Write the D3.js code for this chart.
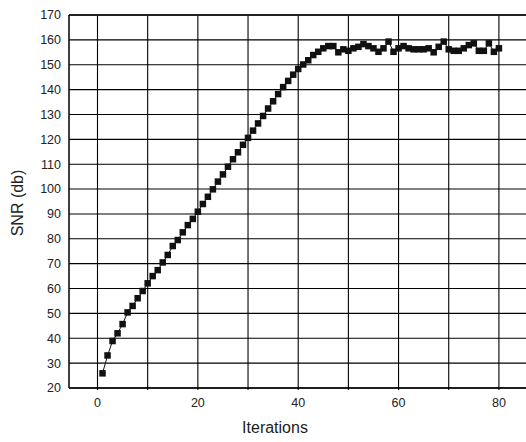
<!DOCTYPE html>
<html>
<head>
<meta charset="utf-8">
<script src="https://cdn.jsdelivr.net/npm/d3@7"></script>
<style>
  body { margin: 0; background: #fff; }
  text { font-family: "Liberation Sans", Arial, sans-serif; fill: #222; }
</style>
</head>
<body>
<div id="chart"></div>
<script>
const svgWidth = 526;
const svgHeight = 442;

// iteration numbers and SNR readings
const iterations = d3.range(1, 81);
const snr = [
  25.9, 33.1, 38.9, 42.0, 45.7, 50.4, 53.0, 56.1, 59.0, 62.1,
  65.0, 67.4, 70.5, 73.5, 77.1, 79.5, 82.6, 85.5, 88.0, 90.9,
  94.0, 96.9, 99.9, 103.0, 105.9, 109.0, 112.0, 114.8, 117.8, 120.6,
  123.5, 126.4, 129.4, 132.4, 135.3, 138.2, 141.0, 143.5, 146.0, 148.3,
  150.1, 151.8, 153.9, 155.2, 156.6, 157.5, 157.5, 155.0, 156.2, 155.6,
  156.6, 157.2, 158.3, 157.5, 156.6, 155.2, 156.6, 159.3, 155.2, 156.6,
  157.5, 156.6, 156.2, 156.2, 156.2, 156.6, 155.0, 157.2, 159.3, 156.2,
  155.6, 155.6, 156.6, 157.9, 158.6, 155.6, 155.6, 158.6, 155.2, 156.6
];
const xTicks = [0, 20, 40, 60, 80];
const xGrid = d3.range(0, 81, 10);
const yTicks = d3.range(20, 171, 10);

const margin = { top: 15, right: 0, bottom: 54, left: 69 };
const width = svgWidth - margin.left - margin.right;
const height = svgHeight - margin.top - margin.bottom;

const svg = d3.select("#chart")
  .append("svg")
  .attr("width", svgWidth)
  .attr("height", svgHeight);

const chartGroup = svg.append("g")
  .attr("transform", `translate(${margin.left}, ${margin.top})`);

const x = d3.scaleLinear().domain([-5.68, 85.4]).range([0, width]);
const y = d3.scaleLinear().domain([20, 170]).range([height, 0]);

// grid
chartGroup.append("g")
  .selectAll("line")
  .data(yTicks)
  .enter()
  .append("line")
  .attr("x1", 0)
  .attr("x2", width)
  .attr("y1", d => y(d))
  .attr("y2", d => y(d))
  .attr("stroke", "#000")
  .attr("stroke-width", 1.1);

chartGroup.append("g")
  .selectAll("line")
  .data(xGrid)
  .enter()
  .append("line")
  .attr("x1", d => x(d))
  .attr("x2", d => x(d))
  .attr("y1", 0)
  .attr("y2", height + 2)
  .attr("stroke", "#000")
  .attr("stroke-width", 1.1);

// frame
chartGroup.append("line")
  .attr("x1", 0).attr("x2", width).attr("y1", 0).attr("y2", 0)
  .attr("stroke", "#222").attr("stroke-width", 2);
chartGroup.append("line")
  .attr("x1", 0).attr("x2", width).attr("y1", height).attr("y2", height)
  .attr("stroke", "#000").attr("stroke-width", 1.5);
chartGroup.append("line")
  .attr("x1", 0).attr("x2", 0).attr("y1", 0).attr("y2", height)
  .attr("stroke", "#000").attr("stroke-width", 1.5);

// tick labels
chartGroup.append("g")
  .selectAll("text")
  .data(yTicks)
  .enter()
  .append("text")
  .attr("x", -8)
  .attr("y", d => y(d))
  .attr("dy", "0.35em")
  .attr("text-anchor", "end")
  .style("font-size", "12.5px")
  .text(d => d);

chartGroup.append("g")
  .selectAll("text")
  .data(xTicks)
  .enter()
  .append("text")
  .attr("x", d => x(d))
  .attr("y", height + 19)
  .attr("text-anchor", "middle")
  .style("font-size", "12.5px")
  .text(d => d);

// axis titles
svg.append("text")
  .attr("x", 275)
  .attr("y", 433)
  .attr("text-anchor", "middle")
  .style("font-size", "16px")
  .text("Iterations");

svg.append("text")
  .attr("transform", "rotate(-90)")
  .attr("x", -203)
  .attr("y", 23)
  .attr("text-anchor", "middle")
  .style("font-size", "16px")
  .text("SNR (db)");

// series
const pts = iterations.map((it, i) => ({ it: it, v: snr[i] }));

chartGroup.append("path")
  .datum(pts)
  .attr("fill", "none")
  .attr("stroke", "#111")
  .attr("stroke-width", 1)
  .attr("d", d3.line().x(d => x(d.it)).y(d => y(d.v)));

const sq = 6.5;
chartGroup.append("g")
  .selectAll("rect")
  .data(pts)
  .enter()
  .append("rect")
  .attr("x", d => x(d.it) - sq / 2)
  .attr("y", d => y(d.v) - sq / 2)
  .attr("width", sq)
  .attr("height", sq)
  .attr("fill", "#111");
</script>
</body>
</html>
